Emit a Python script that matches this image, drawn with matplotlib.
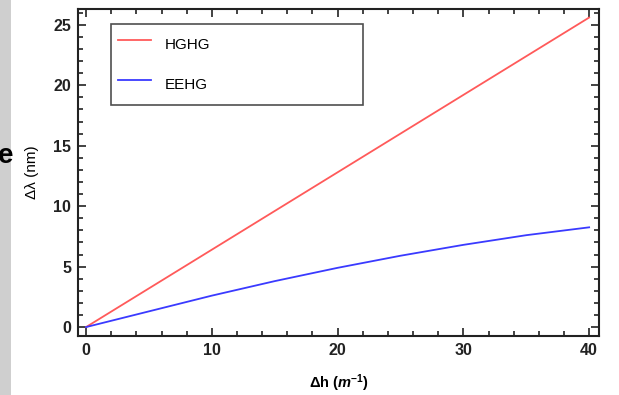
import numpy as np
import matplotlib.pyplot as plt
from matplotlib.ticker import MultipleLocator
from matplotlib.patches import Rectangle

plt.rcParams["font.family"] = ["Liberation Sans", "DejaVu Sans"]
plt.rcParams["mathtext.fontset"] = "custom"
plt.rcParams["mathtext.rm"] = "Liberation Sans"
plt.rcParams["mathtext.it"] = "Liberation Sans:italic"
plt.rcParams["mathtext.bf"] = "Liberation Sans:bold"
plt.rcParams["mathtext.bfit"] = "Liberation Sans:bold:italic"

# harmonic offset (1/m) and wavelength shift (nm)
dh = [0, 5, 10, 15, 20, 25, 30, 35, 40]
hghg = [0, 3.2, 6.4, 9.6, 12.8, 16.0, 19.2, 22.4, 25.6]
eehg = [0, 1.3, 2.6, 3.8, 4.9, 5.9, 6.8, 7.6, 8.25]

fig = plt.figure(figsize=(6.19, 3.95), dpi=100)

# strip of slide background on the left edge
fig.patches.append(Rectangle((0, 0), 0.017, 1, transform=fig.transFigure,
                             facecolor="#cfcfcf", edgecolor="none", zorder=0))
fig.text(-0.004, 0.605, "e", fontsize=20, fontweight="bold", color="black",
         ha="left", va="center")

ax = fig.add_axes([0.126, 0.149, 0.842, 0.828])
ax.plot(dh, hghg, color="#ff5a5a", lw=1.3, label="HGHG")
ax.plot(dh, eehg, color="#3a3aff", lw=1.3, label="EEHG")

ax.set_xlim(-0.64, 40.8)
ax.set_ylim(-0.75, 26.3)
ax.xaxis.set_major_locator(MultipleLocator(10))
ax.xaxis.set_minor_locator(MultipleLocator(2))
ax.yaxis.set_major_locator(MultipleLocator(5))
ax.yaxis.set_minor_locator(MultipleLocator(1))
ax.tick_params(which="both", direction="in", top=True, right=True,
               width=1.2, colors="#222222")
ax.tick_params(which="major", length=6, labelsize=11.5, pad=5)
ax.tick_params(which="minor", length=3.5)
for lab in ax.get_xticklabels() + ax.get_yticklabels():
    lab.set_fontweight("bold")
for sp in ax.spines.values():
    sp.set_linewidth(1.5)
    sp.set_color("#222222")

ax.set_xlabel(r"$\mathbf{\Delta h\ (}\mathbfit{m}^{\mathbf{-1}}\mathbf{)}$",
              fontsize=10.5, labelpad=10)
ax.set_ylabel("Δλ (nm)", fontsize=11, labelpad=10)

leg = ax.legend(loc="upper left", bbox_to_anchor=(0.063, 0.731, 0.484, 0.223),
                mode="expand", fontsize=11, frameon=True, fancybox=False,
                handlelength=2.2, handleheight=2.3, borderpad=0.46,
                labelspacing=0.87, handletextpad=0.85, borderaxespad=0)
leg.get_frame().set_edgecolor("#222222")
leg.get_frame().set_linewidth(1.2)

fig.savefig("out.png", dpi=100)
